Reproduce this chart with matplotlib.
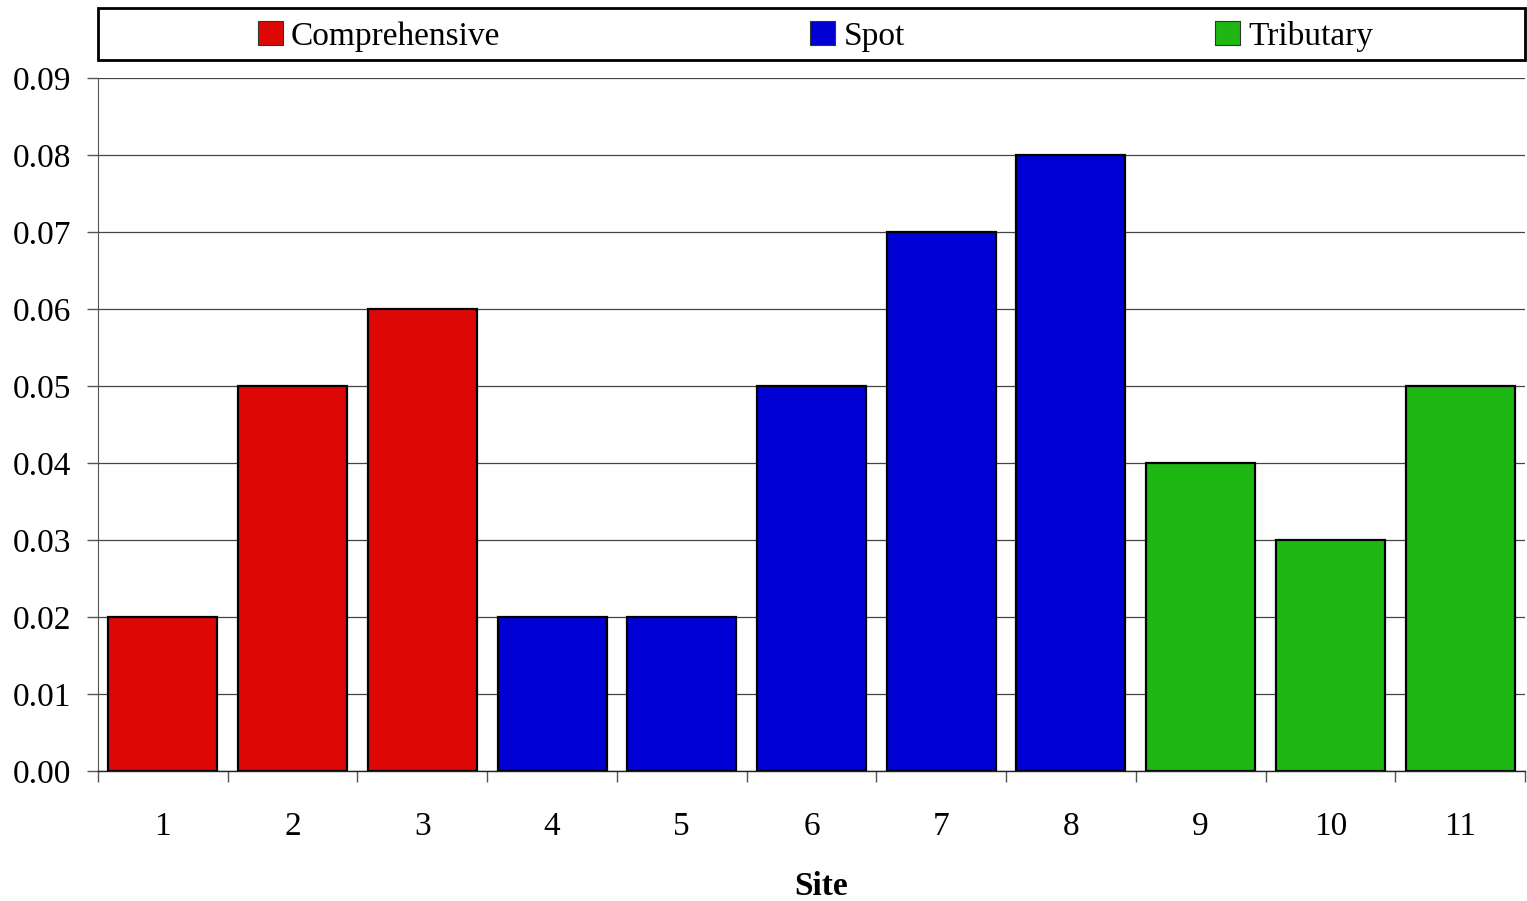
import numpy as np
import matplotlib.pyplot as plt
from matplotlib.patches import Patch, Rectangle

sites = ['1', '2', '3', '4', '5', '6', '7', '8', '9', '10', '11']
values = [0.02, 0.05, 0.06, 0.02, 0.02, 0.05, 0.07, 0.08, 0.04, 0.03, 0.05]
groups = ['Comprehensive', 'Comprehensive', 'Comprehensive',
          'Spot', 'Spot', 'Spot', 'Spot', 'Spot',
          'Tributary', 'Tributary', 'Tributary']
group_names = ['Comprehensive', 'Spot', 'Tributary']
group_colors = {'Comprehensive': '#DD0806', 'Spot': '#0000D4', 'Tributary': '#1FB714'}

plt.rcParams['font.family'] = ['Liberation Serif', 'DejaVu Serif']
fs = 24

W, H = 1527, 901
fig = plt.figure(figsize=(W / 100, H / 100), dpi=100)
ax = fig.add_axes([98 / W, 1 - 771 / H, (1525 - 98) / W, (771 - 78) / H])

x = np.arange(len(sites))
colors = [group_colors[g] for g in groups]
ax.bar(x, values, width=0.84, color=colors, edgecolor='black', linewidth=1.6, zorder=3)

ax.set_xlim(-0.5, len(sites) - 0.5)
ax.set_ylim(0, 0.09)
ax.set_yticks(np.arange(0, 0.0901, 0.01))
ax.set_yticklabels([f'{v:.2f}' for v in np.arange(0, 0.0901, 0.01)], fontsize=fs)
ax.yaxis.grid(True, color='#444444', linewidth=0.9, zorder=0)
ax.set_axisbelow(True)

ax.set_xticks(np.arange(-0.5, len(sites), 1))
ax.set_xticklabels([])
ax.set_xticks(x, minor=True)
ax.set_xticklabels(sites, minor=True, fontsize=fs)
ax.tick_params(axis='x', which='major', length=8, width=1, color='#555555', direction='out')
ax.tick_params(axis='x', which='minor', length=0, pad=29)
ax.tick_params(axis='y', length=8, width=1, color='#555555', pad=11)

for s in ['top', 'right']:
    ax.spines[s].set_visible(False)
ax.spines['left'].set_color('#555555')
ax.spines['bottom'].set_color('#222222')
ax.spines['bottom'].set_linewidth(1.0)

ax.set_xlabel('Site', fontsize=fs, fontweight='bold')
ax.xaxis.set_label_coords(0.507, -100 / 693, transform=ax.transAxes)

# legend box
fig.patches.append(Rectangle((98 / W, 1 - 60 / H), (1525 - 98) / W, 52 / H,
                             transform=fig.transFigure, fill=False,
                             edgecolor='black', linewidth=2.0))
handles = [Patch(facecolor=group_colors[g], edgecolor='#333333', linewidth=0.8) for g in group_names]
fig.legend(handles, group_names, loc='center', ncol=3, frameon=False, fontsize=fs,
           bbox_to_anchor=((98 + 1525) / 2 / W + 4 / W, 1 - 36 / H),
           handlelength=0.75, handleheight=0.75, handletextpad=0.25,
           columnspacing=9.3, borderpad=0)

fig.savefig('out.png', dpi=100)
